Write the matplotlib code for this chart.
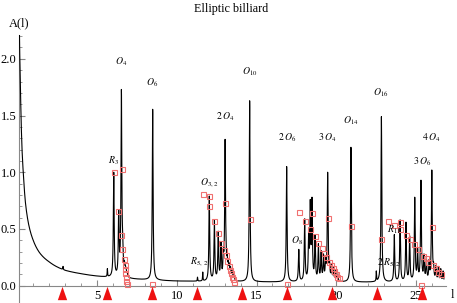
import numpy as np
import matplotlib
matplotlib.use("Agg")
import matplotlib.pyplot as plt

plt.rcParams['font.family'] = ['Liberation Serif', 'DejaVu Serif']
plt.rcParams['mathtext.fontset'] = 'stix'

# ---- data ----
# spectral peaks: position and observed total height at the peak top
peak_x = [2.87, 5.65, 6.05, 6.36, 6.53, 6.60, 6.66, 6.72, 6.78, 6.83, 6.89,
          8.49, 11.30, 11.63, 12.04, 12.36, 12.60, 12.77, 12.92, 13.03, 13.09,
          13.16, 13.23, 13.30, 13.37, 13.45, 13.52, 13.60, 14.57, 16.89, 17.65,
          18.02, 18.27, 18.37, 18.48, 18.67, 18.88, 19.05, 19.20, 19.33, 19.46,
          19.58, 19.70, 19.82, 19.95, 20.08, 20.92, 22.51, 22.83, 23.64, 24.00,
          24.37, 24.60, 24.92, 25.10, 25.31, 25.50, 25.65, 25.82, 25.99, 26.10,
          26.25, 26.40, 26.55, 26.70]
peak_top = [0.17, 0.15, 1.00, 0.67, 1.73, 0.50, 0.25, 0.22, 0.18, 0.15, 0.12,
            1.555, 0.075, 0.12, 0.79, 0.58, 0.48, 0.39, 0.33, 1.29, 0.43,
            0.28, 0.24, 0.20, 0.17, 0.14, 0.11, 0.085, 1.63, 1.05, 0.32,
            0.59, 0.50, 0.76, 0.78, 0.45, 0.37, 0.31, 0.28, 0.25, 1.00,
            0.22, 0.19, 0.16, 0.14, 0.12, 1.22, 0.13, 1.49, 0.45, 0.58,
            0.56, 0.44, 0.78, 0.33, 0.93, 0.28, 0.25, 0.23, 1.02, 0.21,
            0.18, 0.17, 0.15, 0.13]
# narrow spikes
spike_x = [2.87, 5.65, 11.30, 11.63, 22.51]

# smooth background read at sample points
bg_x = [0.12, 0.2, 0.3, 0.4, 0.5, 0.7, 1.0, 1.4, 2.0, 2.5, 3.0, 4.0, 5.2,
        7.0, 10.0, 15.0, 20.0, 27.0]
bg_y = [2.4, 1.75, 1.2, 0.95, 0.75, 0.55, 0.40, 0.29, 0.21, 0.165, 0.135,
        0.105, 0.08, 0.06, 0.04, 0.032, 0.03, 0.028]

# red open squares (orbit predictions)
sq_x = [6.07, 6.55, 6.34, 6.48, 6.59, 6.67, 6.73, 6.75, 6.77, 6.82, 6.84, 6.86,
        8.47,
        11.63, 12.04, 12.02, 12.36, 12.61, 12.79, 12.94, 13.03, 13.07, 13.17,
        13.26, 13.34, 13.40, 13.46, 13.53, 13.57,
        14.57, 16.90,
        17.67, 18.04, 18.46, 18.36, 18.67, 18.88, 19.09, 19.25, 19.36, 19.46,
        19.54, 19.67, 19.78, 19.88, 19.99, 20.07, 20.15,
        20.92, 22.82,
        23.25, 23.63, 24.00, 24.00, 24.36, 24.62, 24.90, 25.15, 25.31, 25.46,
        25.60, 25.75, 25.99, 26.09, 26.26, 26.40, 26.57]
sq_y = [1.00, 1.03, 0.66, 0.45, 0.32, 0.235, 0.18, 0.145, 0.11, 0.08, 0.044, 0.015,
        0.015,
        0.806, 0.79, 0.705, 0.573, 0.465, 0.376, 0.315, 0.727, 0.27, 0.22,
        0.174, 0.138, 0.109, 0.08, 0.056, 0.035,
        0.59, 0.012,
        0.65, 0.57, 0.64, 0.50, 0.44, 0.38, 0.335, 0.29, 0.256, 0.594,
        0.21, 0.18, 0.153, 0.13, 0.10, 0.08, 0.065,
        0.526, 0.41,
        0.57, 0.535, 0.56, 0.50, 0.45, 0.41, 0.365, 0.32, 0.006, 0.26,
        0.24, 0.21, 0.515, 0.18, 0.153, 0.12, 0.10]

# red triangles on the axis
tri_x = [2.82, 5.63, 8.45, 11.27, 14.08, 16.90, 19.72, 22.53, 25.35]

# peak labels
lab_text = [r'$R_3$', r'$O_4$', r'$O_6$', r'$O_{3,\,2}$', r'$R_{5,\,2}$', r'$2\,O_4$',
            r'$O_{10}$', r'$2\,O_6$', r'$O_8$', r'$3\,O_4$', r'$O_{14}$', r'$O_{16}$',
            r'$R_{11}$', r'$2\,R_{5,\,2}$', r'$3\,O_6$', r'$4\,O_4$']
lab_x = [6.03, 6.50, 8.46, 12.04, 11.40, 13.03, 14.56, 16.89, 17.56, 19.44,
         20.93, 22.81, 23.62, 23.30, 25.36, 25.92]
lab_y = [1.10, 1.975, 1.79, 0.91, 0.21, 1.49, 1.89, 1.30, 0.40, 1.30,
         1.45, 1.70, 0.49, 0.20, 1.09, 1.30]

# ---- build curve: Lorentzian lines on the background ----
W_MAIN, W_SPIKE = 0.03, 0.015
px_arr = np.array(peak_x)
w_arr = np.array([W_SPIKE if p in spike_x else W_MAIN for p in peak_x])


def bg(v):
    return np.exp(np.interp(np.log(v), np.log(bg_x), np.log(bg_y)))


def shape(v, p, w):
    return w**2 / ((v - p)**2 + w**2)


# amplitudes so that the curve passes through the read peak tops
M = shape(px_arr[:, None], px_arr[None, :], w_arr[None, :])
amp = np.linalg.solve(M, np.array(peak_top) - bg(px_arr))
amp = np.maximum(amp, 0.0)

x = np.linspace(0.12, 26.75, 9000)
x = np.sort(np.concatenate([x, px_arr]))
y = bg(x)
for p, a, w in zip(px_arr, amp, w_arr):
    y = y + a * shape(x, p, w)

fig = plt.figure(figsize=(4.57, 3.03), dpi=100)
ax = fig.add_axes([19/457, 0.0, 427/457, 1 - 35/303])
ax.set_xlim(0.11, 26.88)
ax.set_ylim(-0.153, 2.21)

ax.plot(x, y, color='black', lw=0.8, zorder=3)
ax.plot(sq_x, sq_y, ls='none', marker='s', ms=3.6, mfc='none',
        mec='#f07070', mew=0.8, zorder=4)
tri = [(-0.35, -0.5), (0.35, -0.5), (0.0, 0.5)]
ax.plot(tri_x, [-0.068] * len(tri_x), ls='none', marker=tri, ms=9.6,
        color='#ee1111', mec='#ee1111', mew=0, zorder=5, clip_on=False)

for t, lx, ly in zip(lab_text, lab_x, lab_y):
    ax.text(lx, ly, t, ha='center', va='center', fontsize=7, zorder=6)

# axes styling (Mathematica-like)
for s in ['top', 'right']:
    ax.spines[s].set_visible(False)
ax.spines['bottom'].set_position(('data', 0))
ax.spines['bottom'].set_color('#888888')
ax.spines['left'].set_color('#888888')
ax.set_xticks([5, 10, 15, 20, 25])
ax.set_xticks(np.arange(1, 27), minor=True)
ax.set_yticks([0.0, 0.5, 1.0, 1.5, 2.0])
ax.set_yticklabels(['0.0', '0.5', '1.0', '1.5', '2.0'])
ax.set_yticks(np.arange(0, 2.21, 0.1), minor=True)
ax.tick_params(axis='both', which='both', direction='in', colors='#888888',
               labelcolor='black', labelsize=9)
ax.tick_params(axis='x', which='major', length=4, pad=3)
ax.tick_params(axis='x', which='minor', length=2)
ax.tick_params(axis='y', which='major', length=4, pad=2)
ax.tick_params(axis='y', which='minor', length=2)

ax.text(0.0, 1.045, 'A(l)', transform=ax.transAxes, ha='center', va='center',
        fontsize=9)
ax.text(1.0 + 6/427, 0.153/2.363 - 0.035, 'l', transform=ax.transAxes,
        ha='center', va='center', fontsize=9)
fig.text(231.5/457, 1 - 9/303, 'Elliptic billiard', ha='center', va='center',
         fontsize=8.7)

fig.savefig('out.png', dpi=100)
